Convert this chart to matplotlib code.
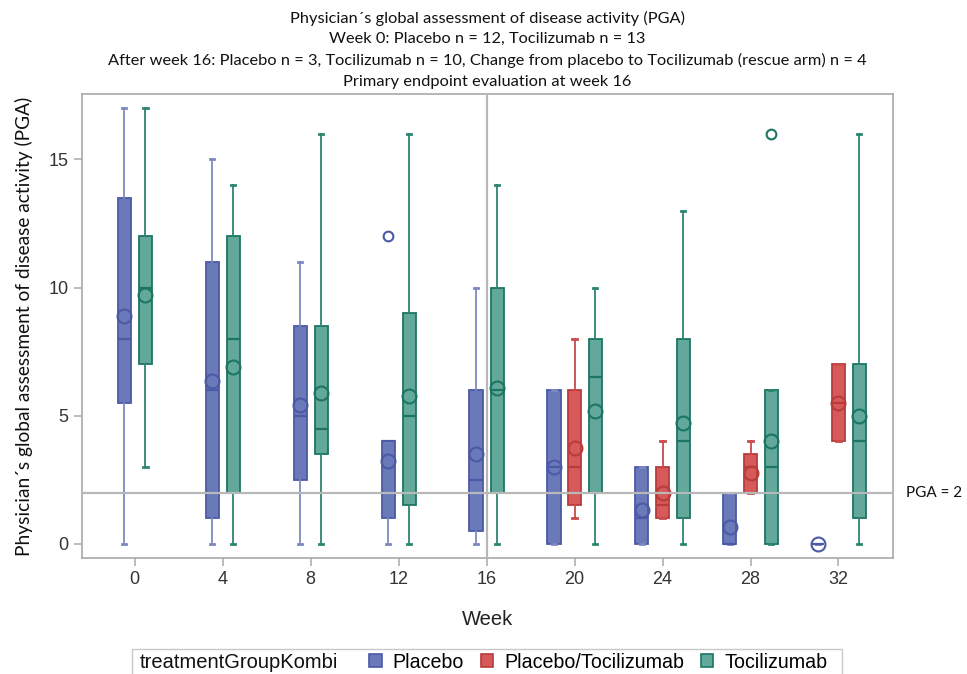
import matplotlib
matplotlib.use("Agg")
import matplotlib.pyplot as plt
from matplotlib.patches import Patch, Rectangle

weeks = ["0", "4", "8", "12", "16", "20", "24", "28", "32"]
groups = ["Placebo", "Placebo/Tocilizumab", "Tocilizumab"]

# Placebo, one value per week
pl_low = [0, 0, 0, 0, 0, 0, 0, 0, 0]
pl_q1 = [5.5, 1, 2.5, 1, 0.5, 0, 0, 0, 0]
pl_med = [8, 6, 5, 4, 2.5, 3, 1, 0, 0]
pl_q3 = [13.5, 11, 8.5, 4, 6, 6, 3, 2, 0]
pl_high = [17, 15, 11, 4, 10, 6, 3, 2, 0]
pl_mean = [8.9, 6.35, 5.4, 3.25, 3.5, 3, 1.33, 0.67, 0]
pl_out = [[], [], [], [12], [], [], [], [], []]

# Placebo/Tocilizumab (rescue arm), weeks 20-32 only
pt_weeks = ["20", "24", "28", "32"]
pt_low = [1, 1, 2, 4]
pt_q1 = [1.5, 1, 2, 4]
pt_med = [3, 1.5, 3, 5.5]
pt_q3 = [6, 3, 3.5, 7]
pt_high = [8, 4, 4, 7]
pt_mean = [3.75, 2, 2.75, 5.5]

# Tocilizumab
tc_low = [3, 0, 0, 0, 0, 0, 0, 0, 0]
tc_q1 = [7, 2, 3.5, 1.5, 2, 2, 1, 0, 1]
tc_med = [10, 8, 4.5, 5, 6, 6.5, 4, 3, 4]
tc_q3 = [12, 12, 8.5, 9, 10, 8, 8, 6, 7]
tc_high = [17, 14, 16, 16, 14, 10, 13, 6, 16]
tc_mean = [9.7, 6.9, 5.9, 5.75, 6.1, 5.2, 4.7, 4, 5]
tc_out = [[], [], [], [], [], [], [], [16], []]

fills = {"Placebo": "#6a79b8", "Placebo/Tocilizumab": "#d65a5a", "Tocilizumab": "#62a89b"}
edges = {"Placebo": "#4b59a6", "Placebo/Tocilizumab": "#b93b3b", "Tocilizumab": "#1d7563"}
whisk = {"Placebo": "#7d89c2", "Placebo/Tocilizumab": "#c94a4a", "Tocilizumab": "#2b8571"}


def make_stats(low, q1, med, q3, high, mean, out=None):
    stats = []
    for i in range(len(low)):
        stats.append({"whislo": low[i], "q1": q1[i], "med": med[i], "q3": q3[i],
                      "whishi": high[i], "mean": mean[i],
                      "fliers": out[i] if out else []})
    return stats


fig = plt.figure(figsize=(9.67, 6.74), dpi=100)
ax = fig.add_axes([82 / 967, 1 - 558 / 674, (893 - 82) / 967, (558 - 94) / 674])

idx = {w: i for i, w in enumerate(weeks)}
pl_pos, tc_pos = [], []
for i, w in enumerate(weeks):
    three = w in pt_weeks
    pl_pos.append(i - (0.235 if three else 0.12))
    tc_pos.append(i + (0.235 if three else 0.12))
pt_pos = [idx[w] for w in pt_weeks]

series = [
    ("Placebo", make_stats(pl_low, pl_q1, pl_med, pl_q3, pl_high, pl_mean, pl_out), pl_pos),
    ("Placebo/Tocilizumab", make_stats(pt_low, pt_q1, pt_med, pt_q3, pt_high, pt_mean), pt_pos),
    ("Tocilizumab", make_stats(tc_low, tc_q1, tc_med, tc_q3, tc_high, tc_mean, tc_out), tc_pos),
]

for name, stats, pos in series:
    fc, ec, wc = fills[name], edges[name], whisk[name]
    ax.bxp(stats, positions=pos, widths=0.15, showmeans=True, patch_artist=True,
           capwidths=0.05, manage_ticks=False,
           boxprops=dict(facecolor=fc, edgecolor=ec, linewidth=1.3),
           medianprops=dict(color=ec, linewidth=1.6),
           whiskerprops=dict(color=wc, linewidth=1.3),
           capprops=dict(color=wc, linewidth=2.0),
           meanprops=dict(marker="o", markerfacecolor="none", markeredgecolor=ec,
                          markersize=10, markeredgewidth=1.5),
           flierprops=dict(marker="o", markerfacecolor="none", markeredgecolor=ec,
                           markersize=7, markeredgewidth=1.5))

ref_c = "#b8b8b8"
ax.axhline(2, color=ref_c, lw=1.6, zorder=5)
ax.axvline(idx["16"], color=ref_c, lw=1.6, zorder=5)
ax.text(1.016, 2, "PGA = 2", transform=ax.get_yaxis_transform(), va="center", ha="left",
        fontsize=11, family="Lato", color="#111111")

ax.set_xlim(-0.6, 8.62)
ax.set_ylim(-0.55, 17.55)
ax.set_xticks(range(len(weeks)))
ax.set_xticklabels(weeks)
ax.set_yticks([0, 5, 10, 15])
for s in ax.spines.values():
    s.set_color("#a9a9a9")
    s.set_linewidth(1.2)
ax.tick_params(colors="#a9a9a9", labelcolor="#333333", length=6, width=1.1, labelsize=13)
for lab in ax.get_xticklabels() + ax.get_yticklabels():
    lab.set_family("Liberation Sans")

ax.set_xlabel("Week", fontsize=14.5, family="Liberation Sans", color="#222222", labelpad=16)
ax.set_ylabel("Physician´s global assessment of disease activity (PGA)", fontsize=13.8,
              family="Lato", color="#111111")
ax.yaxis.set_label_coords(-0.060, 0.5)

title_lines = [
    "Physician´s global assessment of disease activity (PGA)",
    "Week 0: Placebo n = 12, Tocilizumab n = 13",
    "After week 16: Placebo n = 3, Tocilizumab n = 10, Change from placebo to Tocilizumab (rescue arm) n = 4",
    "Primary endpoint evaluation at week 16",
]
for k, line in enumerate(title_lines):
    fig.text(487.5 / 967, 1 - (18 + 21.3 * k) / 674, line, ha="center", va="center",
             fontsize=11.8, family="Lato", color="#111111")

# legend: title inline on the left, framed box that runs off the bottom edge
leg_y = 1 - 662 / 674
fig.patches.append(Rectangle((132 / 967, 1 - 685 / 674), (842 - 132) / 967, 36 / 674,
                             transform=fig.transFigure, fill=False,
                             edgecolor="#c8c8c8", linewidth=1.0))
fig.text(140 / 967, leg_y, "treatmentGroupKombi", ha="left", va="center",
         fontsize=14.5, family="Liberation Sans", color="#111111")
handles = [Patch(facecolor=fills[g], edgecolor=edges[g], linewidth=1.2, label=g) for g in groups]
leg = fig.legend(handles=handles, loc="center left", bbox_to_anchor=(369 / 967, leg_y),
                 ncol=3, frameon=False, handlelength=0.65, handleheight=0.65,
                 handletextpad=0.55, columnspacing=0.85, borderpad=0, borderaxespad=0,
                 prop={"family": "Liberation Sans", "size": 14.1})

fig.savefig("out.png", dpi=100)
